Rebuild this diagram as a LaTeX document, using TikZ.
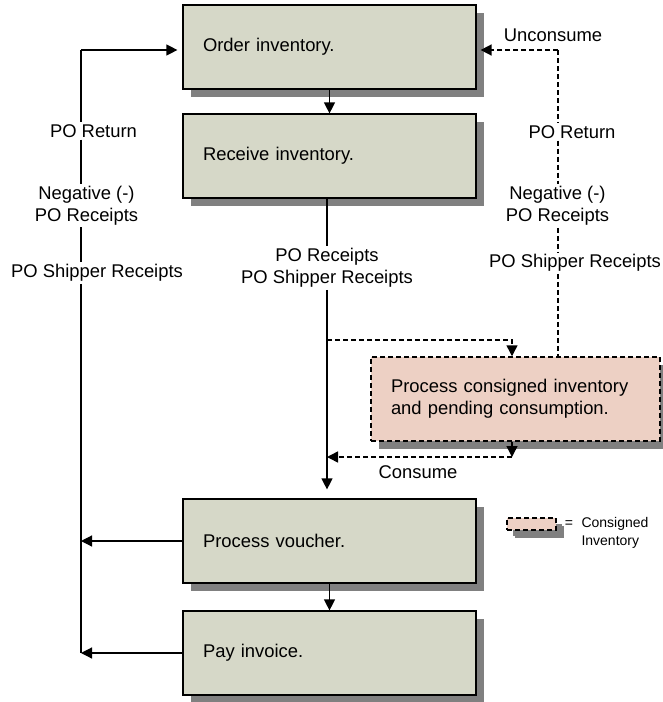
\documentclass[tikz,border=0pt]{standalone}
\usepackage{fontspec}
\setmainfont{Liberation Sans}
\usetikzlibrary{arrows.meta,shadows}
\definecolor{cajaverde}{RGB}{214,216,200}
\definecolor{cajarosa}{RGB}{237,208,196}
\definecolor{sombra}{RGB}{128,128,128}
\tikzset{
  caja/.style={draw, line width=1.2pt, fill=cajaverde, minimum height=84pt,
    text width=253pt, inner xsep=20pt, align=left,
    drop shadow={shadow xshift=8pt, shadow yshift=-8pt, opacity=1, fill=sombra}},
  cajacons/.style={caja, fill=cajarosa, text width=249pt, line width=1.5pt,
    dash pattern=on 5pt off 3pt},
  etiq/.style={fill=white, align=center, inner sep=2pt},
  flecha/.style={line width=1.2pt, -{Triangle[length=11pt,width=11pt]}},
  linea/.style={line width=1.2pt},
  discont/.style={line width=1.5pt, dash pattern=on 5pt off 3pt},
  dflecha/.style={discont, -{Triangle[length=11pt,width=11pt]}}
}
\begin{document}
\begin{tikzpicture}[x=1pt, y=-1pt, font=\fontsize{18.4}{22}\selectfont]
    \useasboundingbox (0,0) rectangle (663,702);
    % Dibuja las cajas
    \node[caja] (orden) at (329.5,47) {Order inventory.};
    \node[caja] (recibe) at (329.5,156) {Receive inventory.};
    \node[cajacons] (consig) at (515.5,399) {Process consigned inventory\\and pending consumption.};
    \node[caja] (vale) at (329.5,541) {Process voucher.};
    \node[caja] (pago) at (329.5,653) {Pay invoice.};

    % Etiquetas
    \node[etiq] (rcpt) at (327,268) {PO Receipts\\PO Shipper Receipts};
    \node[etiq] (retI) at (93.5,131) {PO Return};
    \node[etiq] (negI) at (86.5,205.5) {Negative (-)\\PO Receipts};
    \node[etiq] (shipI) at (97,273) {PO Shipper Receipts};
    \node[etiq] (retD) at (572,132) {PO Return};
    \node[etiq] (negD) at (557.5,206) {Negative (-)\\PO Receipts};
    \node[etiq] (shipD) at (575,263) {PO Shipper Receipts};
    \node (uncons) at (553,35) {Unconsume};
    \node (consume) at (418,472) {Consume};

    % Flujo principal
    \draw[flecha] (orden) -- (recibe);
    \draw[flecha] (vale) -- (pago);
    \draw[linea] (recibe.south -| rcpt) -- (rcpt.north);
    \draw[flecha, shorten >=9pt] (rcpt.south) -- (rcpt |- vale.north);

    % Retornos a la izquierda
    \coordinate (arrI) at (81,50);
    \coordinate (abI) at (pago.west -| arrI);
    \draw[flecha, shorten >=5pt] (arrI) -- (arrI -| orden.west);
    \draw[linea] (arrI) -- (retI.north -| arrI);
    \draw[linea] (retI.south -| arrI) -- (negI.north -| arrI);
    \draw[linea] (negI.south -| arrI) -- (shipI.north -| arrI);
    \draw[linea] (shipI.south -| arrI) -- (abI);
    \draw[flecha] (vale.west) -- (vale.west -| arrI);
    \draw[flecha] (pago.west) -- (abI);

    % Consignado
    \coordinate (arrD) at (558,50);
    \coordinate (entra) at (512,340);
    \draw[dflecha, shorten >=4pt] (arrD) -- (arrD -| orden.east);
    \draw[discont] (arrD) -- (retD.north -| arrD);
    \draw[discont] (retD.south -| arrD) -- (negD.north -| arrD);
    \draw[discont] (negD.south -| arrD) -- (shipD.north -| arrD);
    \draw[discont] (shipD.south -| arrD) -- (consig.north -| arrD);
    \draw[dflecha] (rcpt |- 0,356) -- (rcpt |- entra) -- (entra) -- (entra |- consig.north);
    \coordinate (sale) at (512,457);
    \draw[dflecha] (sale |- consig.south) -- (sale);
    \draw[dflecha] (sale) -- (sale -| rcpt);

    % Leyenda
    \node[cajacons, text width=, minimum width=49pt, minimum height=12pt, inner sep=0pt,
      drop shadow={shadow xshift=6pt, shadow yshift=-6pt, opacity=1, fill=sombra}] (ley) at (531.5,524) {};
    \node (igual) at (569,524) {\fontsize{14}{18}\selectfont =};
    \node[anchor=west, align=left, font=\fontsize{14}{18}\selectfont] (leytxt) at (578,533) {Consigned\\Inventory};
\end{tikzpicture}
\end{document}
